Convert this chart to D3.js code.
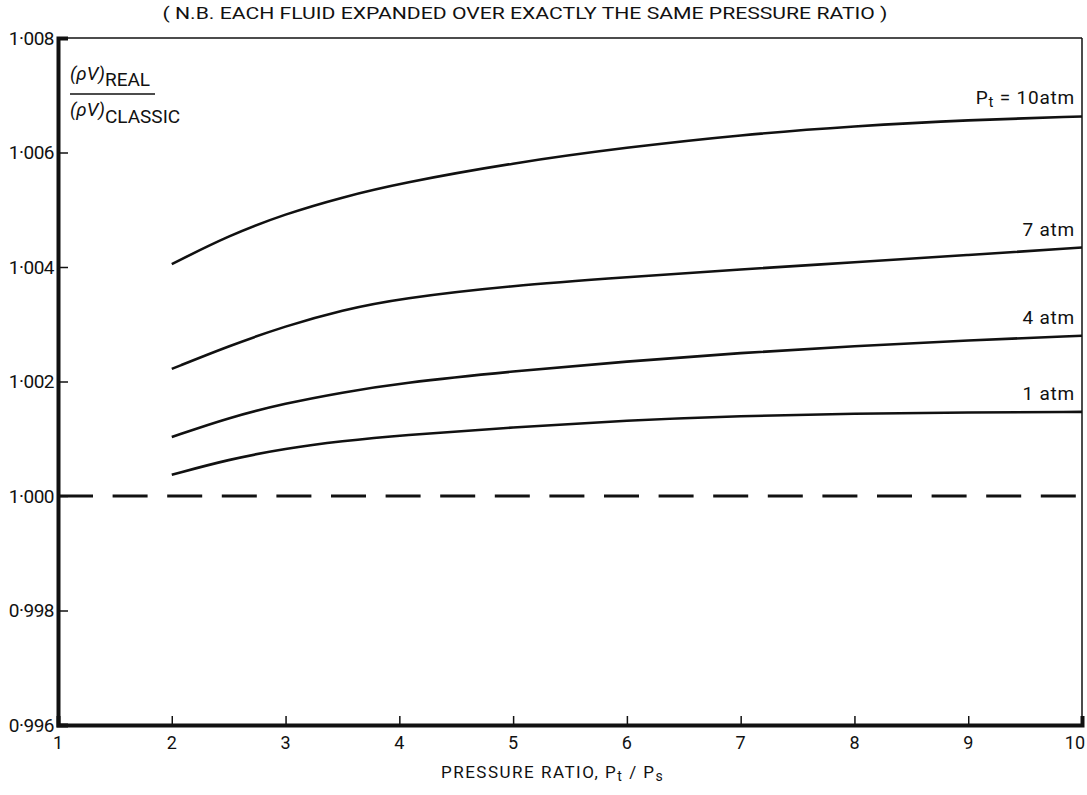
<!DOCTYPE html>
<html>
<head>
<meta charset="utf-8">
<script src="https://cdn.jsdelivr.net/npm/d3@7"></script>
<style>
  body { margin: 0; background: #fff; }
  text { font-family: "Roboto", "DejaVu Sans", sans-serif; fill: #111; }
</style>
</head>
<body>
<div id="chart"></div>
<script>
// Data
const ratio = [2, 2.5, 3, 3.5, 4, 5, 6, 7, 8, 9, 10];
const atm10 = [1.00405, 1.00455, 1.00493, 1.00522, 1.00546, 1.00582, 1.00609, 1.00631, 1.00646, 1.00657, 1.00663];
const atm7  = [1.00222, 1.00262, 1.00297, 1.00325, 1.00345, 1.00368, 1.00382, 1.00396, 1.00408, 1.00421, 1.00434];
const atm4  = [1.00103, 1.00137, 1.00162, 1.00181, 1.00197, 1.00218, 1.00235, 1.00250, 1.00262, 1.00272, 1.00280];
const atm1  = [1.00037, 1.00064, 1.00083, 1.00096, 1.00106, 1.00120, 1.00132, 1.00140, 1.00144, 1.00146, 1.00147];
const xTicks = [1, 2, 3, 4, 5, 6, 7, 8, 9, 10];
const yTicks = [0.996, 0.998, 1.000, 1.002, 1.004, 1.006, 1.008];
const reference = 1.000;

// Set the dimensions and margins of the graph
const margin = {top: 38, right: 5, bottom: 70, left: 58},
    width = 1087 - margin.left - margin.right,
    height = 795 - margin.top - margin.bottom;

const svgRoot = d3.select("#chart")
  .append("svg")
    .attr("width", 1087)
    .attr("height", 795);

const svg = svgRoot.append("g")
    .attr("transform", `translate(${margin.left},${margin.top})`);

const x = d3.scaleLinear().domain([1, 10]).range([0, width]);
const y = d3.scaleLinear().domain([0.996, 1.008]).range([height, 0]);

// Title
svgRoot.append("text")
    .attr("x", 525)
    .attr("y", 19)
    .attr("text-anchor", "middle")
    .attr("textLength", 725)
    .attr("lengthAdjust", "spacingAndGlyphs")
    .style("font-size", "17px")
    .text("( N.B. EACH FLUID EXPANDED OVER EXACTLY THE SAME PRESSURE RATIO )");

// Frame: thin top and right
svg.append("line").attr("x1", 0).attr("x2", width).attr("y1", 0).attr("y2", 0)
    .attr("stroke", "#111").attr("stroke-width", 1.5);
svg.append("line").attr("x1", width).attr("x2", width).attr("y1", 0).attr("y2", height)
    .attr("stroke", "#111").attr("stroke-width", 1.5);

// Y axis (ticks inside)
const yAxis = svg.append("g")
    .call(d3.axisRight(y).tickValues(yTicks).tickSize(10).tickFormat(() => ""));
yAxis.select(".domain").attr("stroke-width", 4).attr("stroke", "#111");
yAxis.selectAll(".tick line").attr("stroke-width", 1.5).attr("stroke", "#111");

svg.append("g").selectAll("text.ylab")
  .data(yTicks)
  .join("text")
    .attr("x", -4)
    .attr("y", d => y(d))
    .attr("dy", "0.35em")
    .attr("text-anchor", "end")
    .style("font-size", "19px")
    .style("letter-spacing", "-0.5px")
    .text(d => d3.format(".3f")(d).replace(".", "·"));

// X axis (ticks inside)
const xAxis = svg.append("g")
    .attr("transform", `translate(0,${height})`)
    .call(d3.axisTop(x).tickValues(xTicks).tickSize(9).tickFormat(() => ""));
xAxis.select(".domain").attr("stroke-width", 4).attr("stroke", "#111");
xAxis.selectAll(".tick line").attr("stroke-width", 1.5).attr("stroke", "#111");

svg.append("g").selectAll("text.xlab")
  .data(xTicks)
  .join("text")
    .attr("x", d => x(d))
    .attr("y", height + 24)
    .attr("text-anchor", d => d === 10 ? "end" : "middle")
    .attr("dx", d => d === 10 ? 3 : 0)
    .style("font-size", "18px")
    .text(d => d);

// X axis label
const xTitle = svgRoot.append("text")
    .attr("x", 441)
    .attr("y", 778)
    .style("font-size", "17px")
    .style("letter-spacing", "1.5px");
xTitle.append("tspan").text("PRESSURE RATIO,  P");
xTitle.append("tspan").attr("dy", 3).style("font-size", "14px").text("t");
xTitle.append("tspan").attr("dy", -3).text(" / P");
xTitle.append("tspan").attr("dy", 3).style("font-size", "14px").text("s");

// Y axis label (ratio)
const yTop = svg.append("text")
    .attr("x", 12)
    .attr("y", 42)
    .style("font-size", "19px");
yTop.append("tspan").style("font-style", "italic").text("(ρV)");
yTop.append("tspan").attr("dy", 6).text("REAL");
svg.append("line")
    .attr("x1", 12).attr("x2", 97)
    .attr("y1", 56).attr("y2", 56)
    .attr("stroke", "#111").attr("stroke-width", 1.5);
const yBot = svg.append("text")
    .attr("x", 12)
    .attr("y", 78)
    .style("font-size", "19px");
yBot.append("tspan").style("font-style", "italic").text("(ρV)");
yBot.append("tspan").attr("dy", 7).text("CLASSIC");

// Dashed reference line
svg.append("line")
    .attr("x1", x(1)).attr("x2", x(10))
    .attr("y1", y(reference)).attr("y2", y(reference))
    .attr("stroke", "#111")
    .attr("stroke-width", 3)
    .attr("stroke-dasharray", "35,19.6");

// Curves
const series = [
  {name: "10", values: atm10},
  {name: "7", values: atm7},
  {name: "4", values: atm4},
  {name: "1", values: atm1}
];

const line = d3.line()
    .x((d, i) => x(ratio[i]))
    .y(d => y(d))
    .curve(d3.curveBasis);

svg.append("g").selectAll("path")
  .data(series)
  .join("path")
    .attr("d", d => line(d.values))
    .attr("fill", "none")
    .attr("stroke", "#111")
    .attr("stroke-width", 2.6);

// Curve labels
const labX = width - 7;
series.forEach(s => {
  const t = svg.append("text")
      .attr("x", labX)
      .attr("y", y(s.values[s.values.length - 1]) - 12)
      .attr("text-anchor", "end")
      .style("font-size", "19px")
      .style("letter-spacing", "0.8px");
  if (s.name === "10") {
    t.append("tspan").text("P");
    t.append("tspan").attr("dy", 3).style("font-size", "15px").text("t");
    t.append("tspan").attr("dy", -3).text(" = 10atm");
  } else {
    t.text(s.name + " atm");
  }
});
</script>
</body>
</html>
